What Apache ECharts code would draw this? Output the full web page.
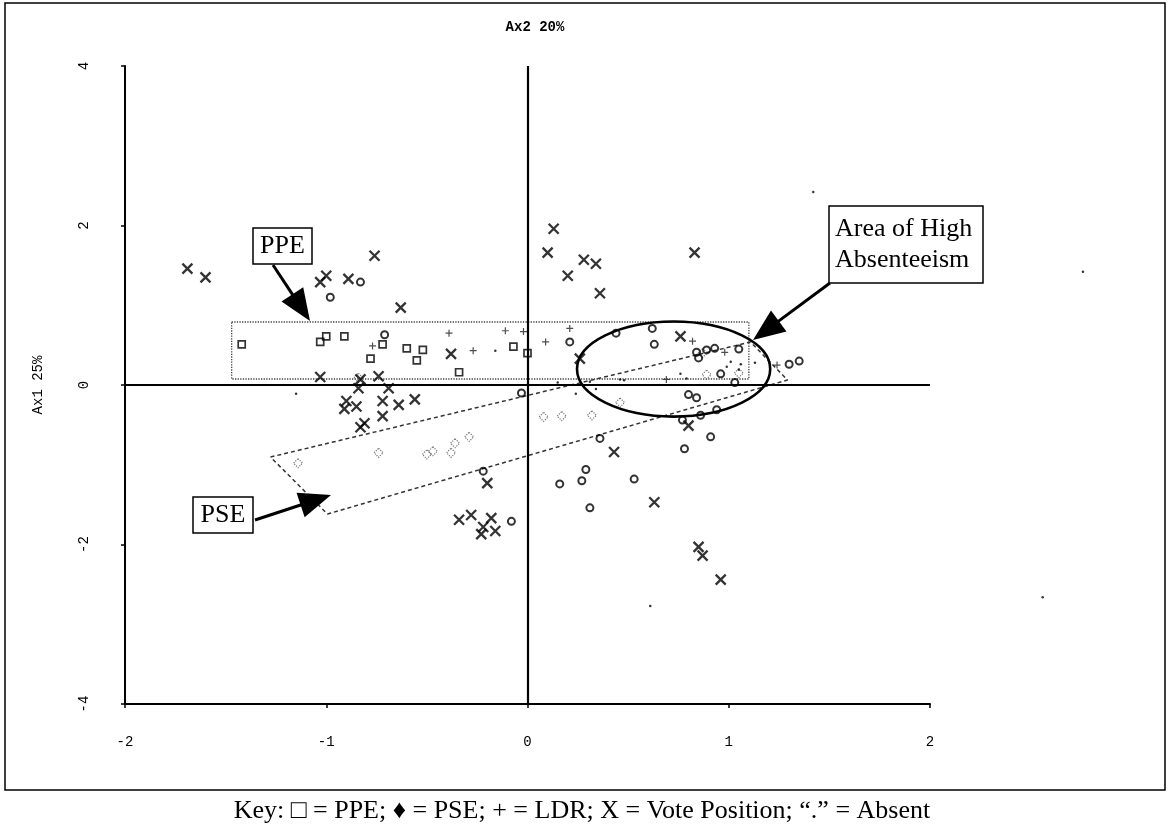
<!DOCTYPE html>
<html>
<head>
<meta charset="utf-8">
<title>Ax1 25% / Ax2 20%</title>
<script src="https://cdn.jsdelivr.net/npm/echarts@6/dist/echarts.min.js"></script>
<style>
  html, body { margin: 0; padding: 0; background: #fff; }
  #chart { width: 1168px; height: 828px; }
</style>
</head>
<body>
<div id="chart"></div>
<script>
// axis ticks
const xTicks = [-2, -1, 0, 1, 2]
const yTicks = [-4, -2, 0, 2, 4]

// PPE (squares)
const ppe = [
  [-1.42, 0.51], [-1.03, 0.54], [-1.00, 0.61], [-0.91, 0.61], [-0.72, 0.51],
  [-0.78, 0.33], [-0.60, 0.46], [-0.52, 0.44], [-0.55, 0.31], [-0.07, 0.48],
  [-0.34, 0.16], [0.00, 0.40],
]
// PSE (diamonds)
const pse = [
  [-1.14, -0.98], [-0.74, -0.85], [-0.50, -0.87], [-0.47, -0.83], [-0.38, -0.85],
  [-0.36, -0.73], [-0.29, -0.65], [0.08, -0.40], [0.17, -0.39], [0.32, -0.38],
  [0.46, -0.22], [0.89, 0.13], [1.05, 0.15], [0.87, 0.40], [-0.84, 0.09],
]
// LDR (plus)
const ldr = [
  [-0.77, 0.49], [-0.39, 0.65], [-0.27, 0.43], [-0.11, 0.68], [-0.02, 0.67],
  [0.09, 0.54], [0.21, 0.71], [0.82, 0.55], [0.98, 0.41], [0.69, 0.07], [1.24, 0.25],
]
// Vote Position (X)
const vote = [
  [-1.69, 1.46], [-1.60, 1.35], [-0.76, 1.62], [-1.03, 1.29], [-1.00, 1.37],
  [-0.89, 1.33], [-0.63, 0.97], [-0.38, 0.39], [-1.03, 0.10], [-0.83, 0.07],
  [-0.74, 0.11], [-0.84, -0.04], [-0.69, -0.04], [-0.90, -0.20], [-0.91, -0.30],
  [-0.85, -0.27], [-0.72, -0.20], [-0.64, -0.25], [-0.56, -0.18], [-0.72, -0.39],
  [-0.81, -0.48], [-0.83, -0.53], [-0.20, -1.23], [-0.34, -1.69], [-0.28, -1.63],
  [-0.18, -1.67], [-0.22, -1.78], [-0.23, -1.87], [-0.16, -1.83], [0.43, -0.84],
  [0.63, -1.47], [0.85, -2.03], [0.87, -2.14], [0.96, -2.44], [0.13, 1.96],
  [0.10, 1.66], [0.28, 1.57], [0.34, 1.52], [0.20, 1.37], [0.36, 1.15],
  [0.83, 1.66], [0.26, 0.33], [0.76, 0.61], [0.80, -0.51],
]
// other members (circles)
const other = [
  [-0.83, 1.29], [-0.98, 1.10], [-0.71, 0.63], [0.21, 0.54], [0.44, 0.65],
  [0.62, 0.71], [0.63, 0.51], [0.84, 0.41], [0.89, 0.44], [0.93, 0.46],
  [0.85, 0.34], [1.05, 0.45], [0.96, 0.14], [1.03, 0.03], [-0.03, -0.10],
  [0.80, -0.12], [0.84, -0.16], [0.77, -0.44], [0.86, -0.38], [0.94, -0.31],
  [0.91, -0.65], [0.78, -0.80], [0.36, -0.67], [-0.22, -1.08], [-0.08, -1.71],
  [0.16, -1.24], [0.27, -1.20], [0.29, -1.06], [0.31, -1.54], [0.53, -1.18],
  [1.30, 0.26], [1.35, 0.30],
]
// Absent (dots)
const absent = [
  [-1.15, -0.11], [-0.16, 0.43], [1.01, 0.29], [1.06, 0.26], [1.13, 0.28],
  [0.99, 0.23], [1.05, 0.19], [0.15, 0.03], [0.34, -0.05], [0.24, -0.11],
  [0.46, 0.07], [0.48, 0.06], [0.76, 0.14], [0.79, 0.08], [0.31, 0.04],
  [1.42, 2.42], [0.61, -2.77], [2.76, 1.42], [2.56, -2.66],
]
// enclosing shapes (data coords)
const ppeBox = [[-1.47, 0.79], [1.10, 0.79], [1.10, 0.075], [-1.47, 0.075], [-1.47, 0.79]]
const pseBox = [[-1.277, -0.903], [1.108, 0.539], [1.292, 0.063], [-0.994, -1.618], [-1.277, -0.903]]
const absentArea = [[0.726, 0.20, 0.48, 0.596]] // cx, cy, rx, ry

const chartInstance = echarts.init(document.getElementById('chart'))

const monoFont = 'Liberation Mono'
const serifFont = 'Liberation Serif'

// arrow with a filled triangular head (pixel coords)
function arrow(x1, y1, x2, y2) {
  const dx = x2 - x1, dy = y2 - y1
  const len = Math.sqrt(dx * dx + dy * dy)
  const ux = dx / len, uy = dy / len
  const hl = 32, hw = 13
  const bx = x2 - ux * hl, by = y2 - uy * hl
  return [
    {
      type: 'line',
      shape: { x1: x1, y1: y1, x2: bx + ux * 4, y2: by + uy * 4 },
      style: { stroke: '#000', lineWidth: 3 },
      z: 100,
    },
    {
      type: 'polygon',
      shape: { points: [[x2, y2], [bx - uy * hw, by + ux * hw], [bx + uy * hw, by - ux * hw]] },
      style: { fill: '#000' },
      z: 100,
    },
  ]
}

function labelBox(x, y, w, h, text, tx, fontSize, align) {
  return [
    {
      type: 'rect',
      shape: { x: x, y: y, width: w, height: h },
      style: { fill: '#fff', stroke: '#000', lineWidth: 1.5 },
      z: 100,
    },
    {
      type: 'text',
      x: tx,
      y: y + h / 2,
      style: {
        text: text,
        font: fontSize + 'px "' + serifFont + '"',
        fill: '#000',
        align: align,
        verticalAlign: 'middle',
        lineHeight: 31,
      },
      z: 101,
    },
  ]
}

const markerBase = { type: 'scatter', silent: true, z: 5 }

const option = {
  animation: false,
  backgroundColor: '#fff',
  title: {
    text: 'Ax2 20%',
    left: 530,
    top: 15,
    textAlign: 'center',
    textStyle: { fontFamily: monoFont, fontSize: 14, fontWeight: 'bold', color: '#000' },
  },
  grid: { left: 125, right: 238, top: 66, bottom: 124 },
  xAxis: {
    type: 'value',
    min: xTicks[0],
    max: xTicks[xTicks.length - 1],
    interval: 1,
    splitLine: { show: false },
    axisLine: { onZero: false, lineStyle: { color: '#000', width: 2 } },
    axisTick: { length: 4, lineStyle: { color: '#000', width: 1.5 } },
    axisLabel: { margin: 31, color: '#000', fontFamily: monoFont, fontSize: 14 },
  },
  yAxis: {
    type: 'value',
    min: yTicks[0],
    max: yTicks[yTicks.length - 1],
    interval: 2,
    name: 'Ax1 25%',
    nameLocation: 'middle',
    nameGap: 80,
    nameRotate: 90,
    nameTextStyle: { fontFamily: monoFont, fontSize: 14, color: '#000' },
    splitLine: { show: false },
    axisLine: { onZero: false, lineStyle: { color: '#000', width: 2 } },
    axisTick: { length: 4, lineStyle: { color: '#000', width: 1.5 } },
    axisLabel: { margin: 34, rotate: 90, color: '#000', fontFamily: monoFont, fontSize: 14 },
  },
  series: [
    {
      type: 'line',
      data: ppeBox,
      symbol: 'none',
      silent: true,
      z: 2,
      lineStyle: { color: '#444', width: 1.3, type: 'dotted' },
      markLine: {
        silent: true,
        symbol: 'none',
        label: { show: false },
        lineStyle: { color: '#000', width: 2.2, type: 'solid' },
        data: [{ xAxis: 0 }, { yAxis: 0 }],
      },
    },
    {
      type: 'line',
      data: pseBox,
      symbol: 'none',
      silent: true,
      z: 2,
      lineStyle: { color: '#333', width: 1.5, type: [4, 3] },
    },
    {
      type: 'custom',
      data: absentArea,
      silent: true,
      z: 3,
      encode: { x: 0, y: 1 },
      renderItem: function (params, api) {
        const c = api.coord([api.value(0), api.value(1)])
        const s = api.size([api.value(2), api.value(3)])
        return {
          type: 'ellipse',
          shape: { cx: c[0], cy: c[1], rx: s[0], ry: s[1] },
          style: { fill: 'none', stroke: '#000', lineWidth: 2.6 },
        }
      },
    },
    Object.assign({}, markerBase, {
      name: 'PPE',
      data: ppe,
      symbol: 'rect',
      symbolSize: 7,
      itemStyle: { color: 'rgba(0,0,0,0)', borderColor: '#000', borderWidth: 1.7 },
    }),
    Object.assign({}, markerBase, {
      name: 'PSE',
      data: pse,
      symbol: 'diamond',
      symbolSize: [9, 9],
      itemStyle: { color: 'rgba(0,0,0,0)', borderColor: '#555', borderWidth: 1.2, borderType: 'dotted' },
    }),
    Object.assign({}, markerBase, {
      name: 'LDR',
      data: ldr,
      symbol: 'path://M5 0L5 10M0 5L10 5',
      symbolSize: 7,
      itemStyle: { color: 'rgba(0,0,0,0)', borderColor: '#222', borderWidth: 1.2 },
    }),
    Object.assign({}, markerBase, {
      name: 'Vote Position',
      data: vote,
      symbol: 'path://M0 0L10 10M10 0L0 10',
      symbolSize: 10,
      itemStyle: { color: 'rgba(0,0,0,0)', borderColor: '#000', borderWidth: 2.3 },
    }),
    Object.assign({}, markerBase, {
      name: 'Other',
      data: other,
      symbol: 'circle',
      symbolSize: 7,
      itemStyle: { color: 'rgba(0,0,0,0)', borderColor: '#000', borderWidth: 2 },
    }),
    Object.assign({}, markerBase, {
      name: 'Absent',
      data: absent,
      clip: false,
      symbol: 'circle',
      symbolSize: 2.5,
      itemStyle: { color: '#000' },
    }),
  ],
  graphic: [
    {
      type: 'rect',
      shape: { x: 5, y: 3, width: 1160, height: 787 },
      style: { fill: 'none', stroke: '#000', lineWidth: 1.5 },
      z: 90,
    },
    {
      type: 'text',
      x: 582,
      y: 811,
      style: {
        text: 'Key: \u25A1 = PPE; \u2666 = PSE; + = LDR; X = Vote Position; \u201C.\u201D = Absent',
        font: '26px "' + serifFont + '"',
        fill: '#000',
        align: 'center',
        verticalAlign: 'middle',
      },
      z: 90,
    },
  ]
    .concat(arrow(273, 265, 310, 321))
    .concat(arrow(255, 520, 331, 495))
    .concat(arrow(830, 283, 753, 340))
    .concat(labelBox(253, 228, 59, 36, 'PPE', 282.5, 26, 'center'))
    .concat(labelBox(193, 497, 60, 36, 'PSE', 223, 26, 'center'))
    .concat(labelBox(829, 206, 154, 77, 'Area of High\nAbsenteeism', 835, 26, 'left')),
}

chartInstance.setOption(option)
</script>
</body>
</html>
